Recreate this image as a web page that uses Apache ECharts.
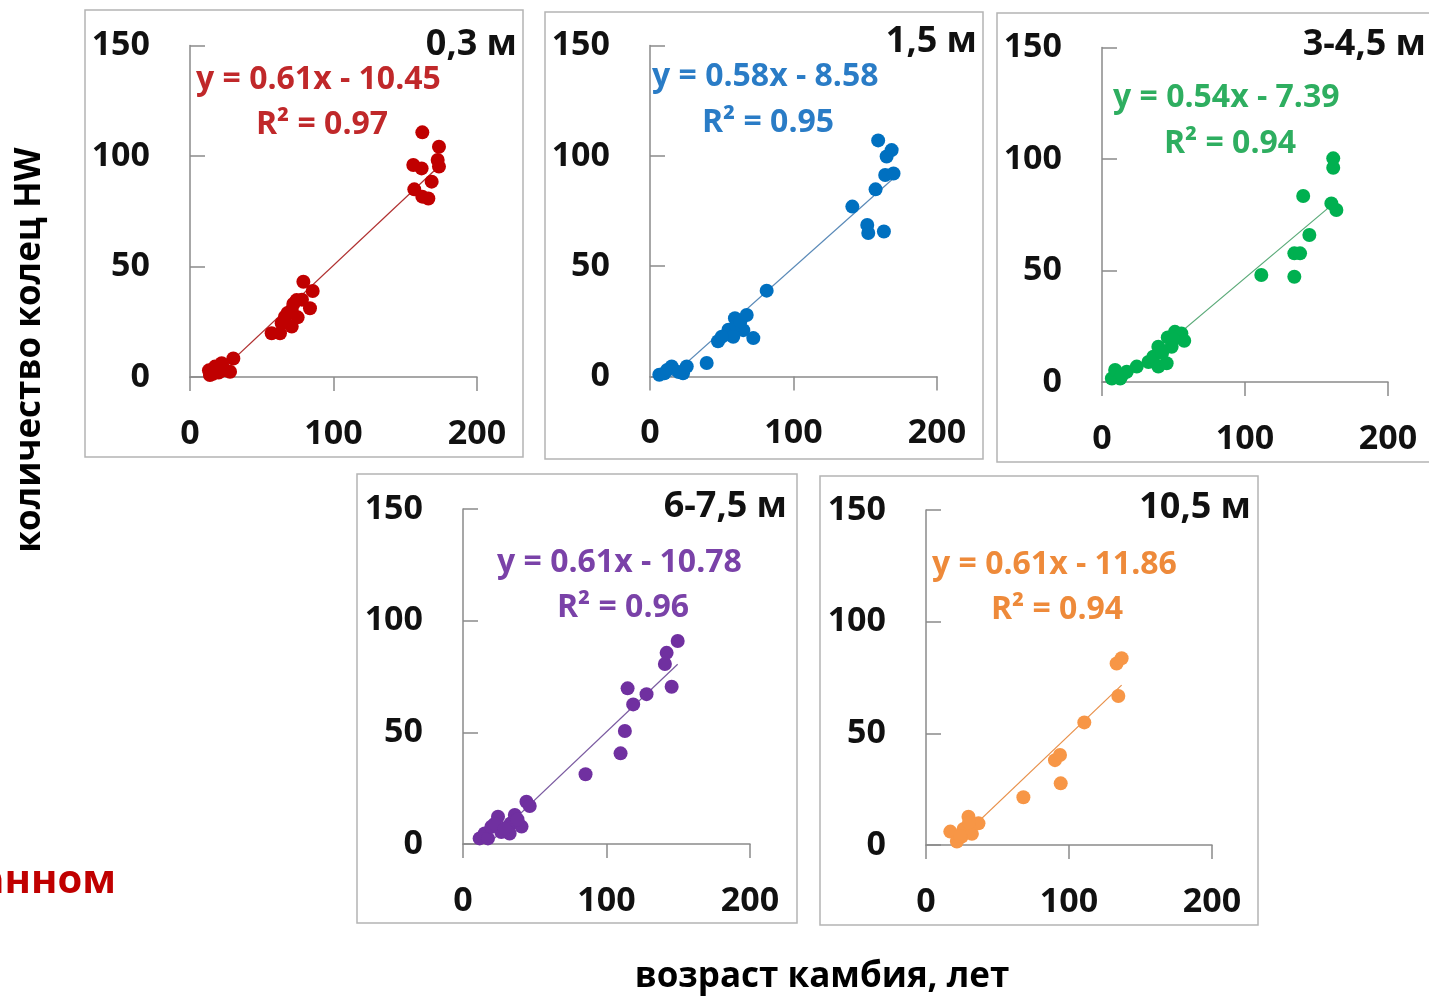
<!DOCTYPE html>
<html><head><meta charset="utf-8">
<script src="https://cdn.jsdelivr.net/npm/echarts@6/dist/echarts.min.js"></script>
<style>html,body{margin:0;padding:0;background:#fff;overflow:hidden}#c{width:1429px;height:996px}</style>
</head><body><div id="c"></div>
<script>
// ---- data (age of cambium, years ; number of HW rings) ----
const heights = ['0,3 м', '1,5 м', '3-4,5 м', '6-7,5 м', '10,5 м'];
const slopes = [0.61, 0.58, 0.54, 0.61, 0.61];
const intercepts = [-10.45, -8.58, -7.39, -10.78, -11.86];
const equations = ['y = 0.61x - 10.45', 'y = 0.58x - 8.58', 'y = 0.54x - 7.39', 'y = 0.61x - 10.78', 'y = 0.61x - 11.86'];
const r2Labels = ['R² = 0.97', 'R² = 0.95', 'R² = 0.94', 'R² = 0.96', 'R² = 0.94'];
const xTicks = [0, 100, 200];
const yTicks = [0, 50, 100, 150];

const age03 =   [13.9,13.2,17.4,22.1,24.8,27.9,30.2,20,16, 56.9,62.7,70.9,63.9,66.2,70.9,74.3,83.6,79,85.5,68,75,72,78, 155.6,161.4,161.9,173.5,172.6,173.5,168.4,156.3,161.9,166.1];
const rings03 = [0.9,3,4.7,6.2,3,2.4,8.4,2,1.5, 19.8,19.8,22.8,24.3,27.3,30.3,34.8,31.1,43.1,38.9,29,27,33,35, 95.9,94.4,110.7,104.2,98.2,95.2,88.4,84.9,81.6,80.8];

const age15 =   [6.5,10,15.1,12,23,25.6,20,39.5, 47.4,54.7,55,59.2,65,67.4,72,60,63,58,50,81.3, 141,151.4,152.1,163,157.2,163.9,169.7,164.9,168.4,159];
const rings15 = [0.8,1.5,4.5,3,1.5,4.5,2,6.1, 16,21.2,19,26.4,21,27.9,17.4,23,25,18,18,38.9, 77,68.7,65,65.7,84.8,91.3,92,99.7,102.6,107];

const age345 =   [6.9,9.2,12.7,17.3,24.3,14,32.5,35.9,39.4,45.2,39.4,48.7,46,51,55.5,57.5,42,50, 111.4,134.5,134.5,138.5,145,140.7,160.4,163.9,161.7,161.7];
const rings345 = [1.6,5.4,1.6,4.6,6.9,3,9,11.3,6.9,8.4,15.8,15.8,20,22.5,21.8,18.5,13,19, 48,47.2,57.7,57.7,65.9,83.4,80.1,77.1,96.1,100.3];

const age675 =   [11.6,15.1,17.4,19.8,24.4,26.7,33.2,32.5,36.1,40.8,44.2,46.5,22,29,38, 85.4,109.8,112.8,118.6,114.7,127.9,145.4,140.7,141.9,149.6];
const rings675 = [2.5,4.7,2.5,7.7,12.2,5.4,9.2,4.7,13,7.8,18.9,17,9,7,11, 31.2,40.6,50.6,62.5,69.7,67.1,70.4,80.6,85.6,90.9];

const age105 =   [17,21.6,25,26.3,29.7,32.1,36.7,24,30, 68.1,90.2,93.7,94.2,110.7,134.5,133.3,136.8];
const rings105 = [6,1.6,3.8,7.2,12.7,5,9.7,4,10, 21.4,38,40.3,27.6,54.9,66.7,81.3,83.6];

const ages = [age03, age15, age345, age675, age105];
const rings = [rings03, rings15, rings345, rings675, rings105];

// ---- styles / layout ----
const colors = ['#C00000', '#0070C0', '#00B050', '#7030A0', '#F79646'];
const textColors = ['#C0282A', '#2A7CC6', '#2EAE60', '#7A42A8', '#EE8A3A'];
const lineColors = ['#B03030', '#5A8AB8', '#5AAA78', '#7A5AA0', '#E8904A'];
const grids = [
  {left:190, top:45.5, width:287, height:331.5},
  {left:650, top:45.5, width:287, height:331},
  {left:1102, top:47.5, width:286, height:334.5},
  {left:463, top:509, width:287, height:335},
  {left:926, top:510, width:286, height:335}
];
const boxes = [
  [85,10,438,447],[545,12,438,447],[997,13,460,449],[357,474,440,449],[820,476,438,449]
];
const titlePos = [[517,45],[977,42],[1426,45],[787,507],[1251,508]];
const eqPos = [[196,80],[652,77],[1113,98],[497,563],[932,565]];
const r2Pos = [[322,125],[768,123],[1230,144],[623,608],[1057,610]];

const numFont = '"Open Sans", sans-serif';
const txtFont = '"Open Sans", sans-serif';
const axisCol = '#8a8a8a';

const option = {
  backgroundColor: '#fff',
  animation: false,
  grid: grids.map(g => Object.assign({outerBoundsMode:'none', containLabel:false}, g)),
  xAxis: grids.map((g, i) => ({
    gridIndex: i, type: 'value', min: xTicks[0], max: xTicks[xTicks.length-1], interval: xTicks[1]-xTicks[0],
    axisLine: {show: true, onZero: false, lineStyle: {color: axisCol, width: 1.5}},
    axisTick: {show: true, inside: false, length: 14, lineStyle: {color: axisCol, width: 1.5}},
    splitLine: {show: false},
    axisLabel: {margin: 40, fontSize: 34, fontWeight: 'bold', color: '#111', fontFamily: numFont}
  })),
  yAxis: grids.map((g, i) => ({
    gridIndex: i, type: 'value', min: yTicks[0], max: yTicks[yTicks.length-1], interval: yTicks[1]-yTicks[0],
    axisLine: {show: true, onZero: false, lineStyle: {color: axisCol, width: 1.5}},
    axisTick: {show: true, inside: true, length: 15, lineStyle: {color: axisCol, width: 1.5}},
    splitLine: {show: false},
    axisLabel: {margin: 40, fontSize: 34, fontWeight: 'bold', color: '#111', fontFamily: numFont}
  })),
  series: [],
  graphic: []
};

for (let i = 0; i < 5; i++) {
  const xs = ages[i], ys = rings[i];
  const xmin = Math.min(...xs), xmax = Math.max(...xs);
  option.series.push({
    type: 'line', xAxisIndex: i, yAxisIndex: i, symbol: 'none', silent: true, z: 1,
    lineStyle: {color: lineColors[i], width: 1.2},
    data: [[xmin, slopes[i]*xmin + intercepts[i]], [xmax, slopes[i]*xmax + intercepts[i]]]
  });
  option.series.push({
    type: 'scatter', xAxisIndex: i, yAxisIndex: i, symbolSize: 14, z: 2,
    itemStyle: {color: colors[i], opacity: 1},
    data: xs.map((x, k) => [x, ys[k]])
  });
  const b = boxes[i];
  option.graphic.push({type:'rect', shape:{x:b[0], y:b[1], width:b[2], height:b[3]}, style:{fill:'none', stroke:'#b4b4b4', lineWidth:1.5}, z:-10});
  option.graphic.push({type:'text', x:titlePos[i][0], y:titlePos[i][1], style:{text:heights[i], font:'bold 36px ' + txtFont, fill:'#111', align:'right', verticalAlign:'middle'}});
  option.graphic.push({type:'text', x:eqPos[i][0], y:eqPos[i][1], style:{text:equations[i], font:'bold 32px ' + numFont, fill:textColors[i], align:'left', verticalAlign:'middle'}});
  option.graphic.push({type:'text', x:r2Pos[i][0], y:r2Pos[i][1], style:{text:r2Labels[i], font:'bold 32px ' + numFont, fill:textColors[i], align:'center', verticalAlign:'middle'}});
}

option.graphic.push({type:'text', x:30, y:350, rotation:Math.PI/2, style:{text:'количество колец HW', font:'bold 35px ' + txtFont, fill:'#000', align:'center', verticalAlign:'middle'}});
option.graphic.push({type:'text', x:822, y:977, style:{text:'возраст камбия, лет', font:'bold 35px ' + txtFont, fill:'#000', align:'center', verticalAlign:'middle'}});
option.graphic.push({type:'text', x:116, y:882, style:{text:'анном', font:'bold 40px ' + txtFont, fill:'#C00000', align:'right', verticalAlign:'middle'}});

const chart = echarts.init(document.getElementById('c'), null, {renderer:'canvas'});
chart.setOption(option);
</script></body></html>
